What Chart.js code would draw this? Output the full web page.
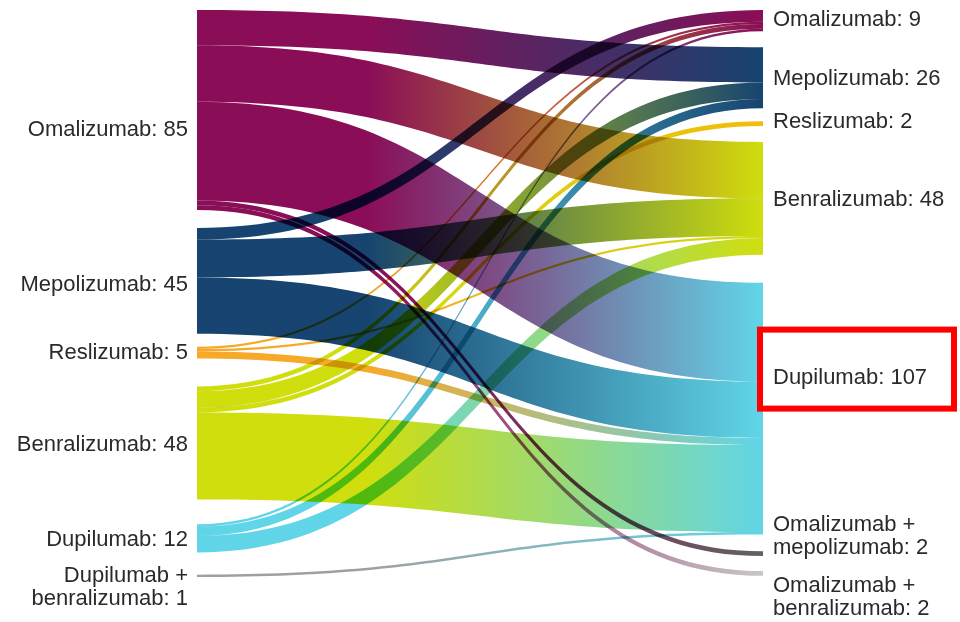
<!DOCTYPE html>
<html>
<head>
<meta charset="utf-8">
<title>Biologic switching</title>
<script src="https://cdn.jsdelivr.net/npm/chart.js@4.4.0/dist/chart.umd.min.js"></script>
<style>
  body { margin: 0; background: #fff; }
  #wrap { width: 960px; height: 622px; position: relative; }
</style>
</head>
<body>
<div id="wrap"><canvas id="flowChart"></canvas></div>
<script>
// nodes before (left) and after (right) the switch
const sources = ['Omalizumab', 'Mepolizumab', 'Reslizumab', 'Benralizumab', 'Dupilumab', 'Dupilumab + benralizumab'];
const sourceValues = [85, 45, 5, 48, 12, 1];
const targets = ['Omalizumab', 'Mepolizumab', 'Reslizumab', 'Benralizumab', 'Dupilumab', 'Omalizumab + mepolizumab', 'Omalizumab + benralizumab'];
const targetValues = [9, 26, 2, 48, 107, 2, 2];

// links: index into sources -> index into targets
const linkFrom  = [0, 0, 0, 0, 0,  1, 1, 1,  2, 2, 2,  3, 3, 3, 3,  4, 4, 4,  5];
const linkTo    = [1, 3, 4, 5, 6,  0, 3, 4,  0, 3, 4,  0, 1, 2, 4,  0, 1, 3,  4];
const linkValue = [15, 24, 42, 2, 2,  5, 16, 24,  1, 1, 3,  2, 7, 2, 37,  1, 4, 7,  1];

// layout + style (not data)
const leftGaps = [7.7, 5.5, 11.9, 10.6, 9.4];
const rightGaps = [6.8, 5.5, 6.8, 11.9, 7.2, 6.4];
const srcColors = ['#84004e', '#0a3a68', '#f6a41e', '#cddc00', '#58d3e6', '#9a9a9a'];
const tgtColors = ['#84004e', '#0a3a68', '#f0b800', '#cddc00', '#58d3e6', '#5a5a5a', '#c4c4c4'];
const leftLabelOffset = [20, 4, 0, 2, 2, 0];
const rightLabelOffset = [-1, 1, -2, 2, -31, -29, 12];

function stack(values, gaps) {
  let y = 0;
  return values.map((v, i) => {
    if (i > 0) y += gaps[i - 1];
    const top = y;
    y += v;
    return top;
  });
}
const srcTop = stack(sourceValues, leftGaps);
const tgtTop = stack(targetValues, rightGaps);
const yMax = srcTop[srcTop.length - 1] + sourceValues[sourceValues.length - 1];

function labelLines(names, values, i) {
  const n = names[i];
  if (n.indexOf(' + ') > 0) {
    const parts = n.split(' + ');
    return [parts[0] + ' +', parts[1] + ': ' + values[i]];
  }
  return [n + ': ' + values[i]];
}

const sankeyPlugin = {
  id: 'sankey',
  afterDraw(chart) {
    const ctx = chart.ctx;
    const xs = chart.scales.x, ys = chart.scales.y;
    const x0 = xs.getPixelForValue(0), x1 = xs.getPixelForValue(1);
    const xm = (x0 + x1) / 2;

    // offsets within each node, links ordered by the node at the other end
    const order = linkValue.map((v, i) => i);
    const srcOff = sourceValues.map(() => 0);
    const tgtOff = targetValues.map(() => 0);
    const yFrom = [], yTo = [];
    order.slice().sort((a, b) => linkFrom[a] - linkFrom[b] || linkTo[a] - linkTo[b]).forEach(i => {
      yFrom[i] = srcTop[linkFrom[i]] + srcOff[linkFrom[i]];
      srcOff[linkFrom[i]] += linkValue[i];
    });
    order.slice().sort((a, b) => linkTo[a] - linkTo[b] || linkFrom[a] - linkFrom[b]).forEach(i => {
      yTo[i] = tgtTop[linkTo[i]] + tgtOff[linkTo[i]];
      tgtOff[linkTo[i]] += linkValue[i];
    });

    ctx.save();
    ctx.globalCompositeOperation = 'multiply';
    ctx.globalAlpha = 0.95;
    order.forEach(i => {
      const a0 = ys.getPixelForValue(yFrom[i]);
      const a1 = ys.getPixelForValue(yFrom[i] + linkValue[i]);
      const b0 = ys.getPixelForValue(yTo[i]);
      const b1 = ys.getPixelForValue(yTo[i] + linkValue[i]);
      const g = ctx.createLinearGradient(x0, 0, x1, 0);
      g.addColorStop(0, srcColors[linkFrom[i]]);
      g.addColorStop(0.3, srcColors[linkFrom[i]]);
      g.addColorStop(1, tgtColors[linkTo[i]]);
      ctx.fillStyle = g;
      ctx.beginPath();
      ctx.moveTo(x0, a0);
      ctx.bezierCurveTo(xm, a0, xm, b0, x1, b0);
      ctx.lineTo(x1, b1);
      ctx.bezierCurveTo(xm, b1, xm, a1, x0, a1);
      ctx.closePath();
      ctx.fill();
    });
    ctx.restore();

    // labels
    ctx.save();
    ctx.font = '22px "Liberation Sans", Arial, sans-serif';
    ctx.fillStyle = '#2a2a2a';
    ctx.textBaseline = 'middle';
    ctx.textAlign = 'right';
    sources.forEach((s, i) => {
      const c = ys.getPixelForValue(srcTop[i] + sourceValues[i] / 2) + leftLabelOffset[i];
      labelLines(sources, sourceValues, i).forEach((t, k) => ctx.fillText(t, x0 - 9, c + k * 23));
    });
    ctx.textAlign = 'left';
    targets.forEach((s, i) => {
      const c = ys.getPixelForValue(tgtTop[i] + targetValues[i] / 2) + rightLabelOffset[i];
      labelLines(targets, targetValues, i).forEach((t, k) => ctx.fillText(t, x1 + 10, c + k * 23));
      if (s === 'Dupilumab') {
        ctx.strokeStyle = '#ff0000';
        ctx.lineWidth = 6;
        ctx.strokeRect(x1 - 3, c - 48, 194, 79);
      }
    });
    ctx.restore();
  }
};

new Chart(document.getElementById('flowChart'), {
  type: 'scatter',
  data: { datasets: [] },
  options: {
    responsive: true,
    maintainAspectRatio: false,
    animation: false,
    layout: { padding: { left: 197, right: 197, top: 10, bottom: 45 } },
    scales: {
      x: { type: 'linear', min: 0, max: 1, display: false },
      y: { type: 'linear', min: 0, max: yMax, reverse: true, display: false }
    },
    plugins: { legend: { display: false }, tooltip: { enabled: false } }
  },
  plugins: [sankeyPlugin]
});
</script>
</body>
</html>
